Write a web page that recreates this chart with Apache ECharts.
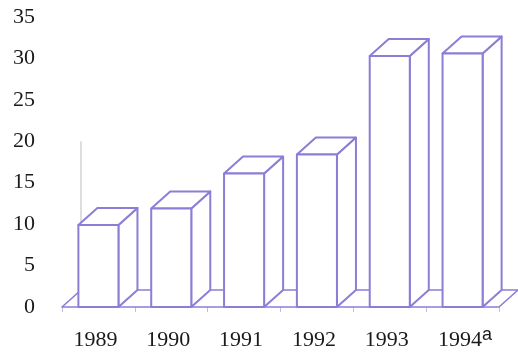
<!DOCTYPE html>
<html>
<head>
<meta charset="utf-8">
<script src="https://cdn.jsdelivr.net/npm/echarts@6/dist/echarts.min.js"></script>
<style>
  html, body { margin: 0; padding: 0; background: #ffffff; }
  #chart { width: 518px; height: 363px; }
</style>
</head>
<body>
<div id="chart"></div>
<script>
// Yearly values shown as 3-D columns
const categories = ['1989', '1990', '1991', '1992', '1993', '1994'];
const values = [9.9, 11.9, 16.1, 18.4, 30.3, 30.6];
const yTicks = { min: 0, max: 35, interval: 5 };

const LINE = '#8a7ed6';
const DEPTH_X = 19;   // px offset of the back face
const DEPTH_Y = -17;
const SERIF = '"Liberation Serif", "DejaVu Serif", serif';

const chart = echarts.init(document.getElementById('chart'), null, { renderer: 'canvas' });

// the floor slab and the faint back corner of the side wall
function renderFloor(params, api) {
  const band = api.size([1, 0])[0];
  const first = api.coord([0, 0]);
  const last = api.coord([categories.length - 1, 0]);
  const xl = first[0] - band / 2;
  const xr = last[0] + band / 2;
  const y = first[1];
  const wallTop = api.coord([0, 20])[1];
  return {
    type: 'group',
    children: [
      {
        type: 'line',
        shape: { x1: xl + DEPTH_X, y1: wallTop, x2: xl + DEPTH_X, y2: y + DEPTH_Y },
        style: { stroke: '#c8c8c8', lineWidth: 1.2 }
      },
      {
        type: 'polygon',
        shape: { points: [[xl, y], [xr, y], [xr + DEPTH_X, y + DEPTH_Y], [xl + DEPTH_X, y + DEPTH_Y]] },
        style: { fill: '#ffffff', stroke: LINE, lineWidth: 1.6, lineJoin: 'round' }
      }
    ]
  };
}

// a white box column: front face, top and right side
function renderBar(params, api) {
  const i = api.value(0);
  const v = api.value(1);
  const top = api.coord([i, v]);
  const base = api.coord([i, 0]);
  const band = api.size([1, 0])[0];
  const w = band * 0.55;
  const x0 = top[0] - w / 2, x1 = top[0] + w / 2;
  const yt = top[1], yb = base[1];
  const st = { fill: '#ffffff', stroke: LINE, lineWidth: 2, lineJoin: 'round' };
  return {
    type: 'group',
    children: [
      { type: 'polygon', shape: { points: [[x1, yb], [x1, yt], [x1 + DEPTH_X, yt + DEPTH_Y], [x1 + DEPTH_X, yb + DEPTH_Y]] }, style: st },
      { type: 'polygon', shape: { points: [[x0, yt], [x1, yt], [x1 + DEPTH_X, yt + DEPTH_Y], [x0 + DEPTH_X, yt + DEPTH_Y]] }, style: st },
      { type: 'rect', shape: { x: x0, y: yt, width: w, height: yb - yt }, style: st }
    ]
  };
}

chart.setOption({
  animation: false,
  backgroundColor: '#ffffff',
  grid: { left: 62, right: 19, top: 17, bottom: 56, containLabel: false },
  xAxis: {
    type: 'category',
    data: categories,
    boundaryGap: true,
    axisLine: { show: false },
    axisTick: { show: true, length: 5, interval: 0, lineStyle: { color: '#c4bde6', width: 1 } },
    axisLabel: {
      margin: 14,
      interval: 0,
      formatter: function (v) {
        return v === '1994' ? '{pad|}{n|1994}{sup|a}{tail|}' : '{n|' + v + '}{tail|}';
      },
      rich: {
        n: { fontSize: 22, fontFamily: SERIF, color: '#1a1a1a', lineHeight: 30, verticalAlign: 'bottom' },
        pad: { width: 11, lineHeight: 30 },
        tail: { width: 6, lineHeight: 30 },
        sup: { fontSize: 18, fontFamily: '"Liberation Sans", Arial, sans-serif', color: '#1a1a1a', lineHeight: 18, padding: [5, 0, 0, 0], verticalAlign: 'top' }
      }
    },
    splitLine: { show: false }
  },
  yAxis: {
    type: 'value',
    min: yTicks.min,
    max: yTicks.max,
    interval: yTicks.interval,
    axisLine: { show: false },
    axisTick: { show: false },
    splitLine: { show: false },
    axisLabel: { margin: 27, color: '#1a1a1a', fontFamily: SERIF, fontSize: 22 }
  },
  series: [
    {
      type: 'custom',
      renderItem: renderFloor,
      data: [[0, 0]],
      z: 1,
      silent: true
    },
    {
      type: 'custom',
      renderItem: renderBar,
      data: categories.map(function (c, i) { return [i, values[i]]; }),
      encode: { x: 0, y: 1 },
      z: 2,
      silent: true
    }
  ]
});
</script>
</body>
</html>
